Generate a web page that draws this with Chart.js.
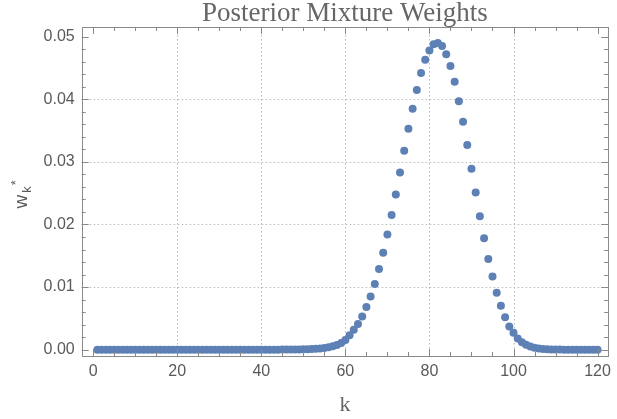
<!DOCTYPE html>
<html>
<head>
<meta charset="utf-8">
<script src="https://cdn.jsdelivr.net/npm/chart.js@4.4.1/dist/chart.umd.min.js"></script>
<style>
  html, body { margin: 0; padding: 0; background: #fff; }
  #wrap { width: 617px; height: 419px; }
</style>
</head>
<body>
<div id="wrap"><canvas id="weights" width="617" height="419"></canvas></div>
<script>
// k = mixture component index
const kValues = [
  1, 2, 3, 4, 5, 6, 7, 8, 9, 10, 11, 12, 13, 14, 15, 16, 17, 18, 19, 20,
  21, 22, 23, 24, 25, 26, 27, 28, 29, 30, 31, 32, 33, 34, 35, 36, 37, 38, 39, 40,
  41, 42, 43, 44, 45, 46, 47, 48, 49, 50, 51, 52, 53, 54, 55, 56, 57, 58, 59, 60,
  61, 62, 63, 64, 65, 66, 67, 68, 69, 70, 71, 72, 73, 74, 75, 76, 77, 78, 79, 80,
  81, 82, 83, 84, 85, 86, 87, 88, 89, 90, 91, 92, 93, 94, 95, 96, 97, 98, 99, 100,
  101, 102, 103, 104, 105, 106, 107, 108, 109, 110, 111, 112, 113, 114, 115, 116, 117, 118, 119, 120
];

// posterior weights w_k*
const weights = [
  0, 0, 0, 0, 0, 0, 0, 0, 0, 0, 0, 0, 0, 0, 0, 0, 0, 0, 0, 0,
  0, 0, 0, 0, 0, 0, 0, 0, 0, 0, 0, 0, 0, 0, 0, 0, 0, 0, 0, 0,
  0, 0, 0, 0, 0.00001, 0.00001, 0.00002, 0.00003, 0.00004, 0.00005,
  0.00007, 0.0001, 0.00014, 0.0002, 0.00028, 0.00039, 0.00053, 0.00075, 0.00105, 0.00155,
  0.0023, 0.0032, 0.0041, 0.0053, 0.0068, 0.0085, 0.0105, 0.0129, 0.0155, 0.0184,
  0.0215, 0.0248, 0.0283, 0.0318, 0.0353, 0.0385, 0.0415, 0.0442, 0.0463, 0.0478,
  0.0488, 0.0490, 0.0485, 0.0472, 0.0453, 0.0428, 0.0397, 0.0364, 0.0327, 0.0289,
  0.0251, 0.0213, 0.0178, 0.0145, 0.0117, 0.0091, 0.0070, 0.0052, 0.0037, 0.0027,
  0.0018, 0.0012, 0.0008, 0.0005, 0.0003, 0.00018, 0.0001, 0.00006, 0.00003, 0.00002,
  0.00001, 0, 0, 0, 0, 0, 0, 0, 0, 0
];

const xTicks = [0, 20, 40, 60, 80, 100, 120];
const yTicks = [0, 0.01, 0.02, 0.03, 0.04, 0.05];
const xGrid = [20, 40, 60, 80, 100];
const yGrid = [0.01, 0.02, 0.03, 0.04];

const frameColor = '#8a8a8a';
const textColor = '#5a5a5a';

// Mathematica-style frame: dotted grid, ticks on all four sides, labels
const framePlugin = {
  id: 'frame',
  beforeDatasetsDraw(chart) {
    const { ctx, chartArea: a, scales: { x, y } } = chart;
    ctx.save();
    ctx.strokeStyle = '#b8b8b8';
    ctx.lineWidth = 1;
    ctx.setLineDash([1.5, 2.5]);
    xGrid.forEach(v => {
      const px = Math.round(x.getPixelForValue(v)) + 0.5;
      ctx.beginPath(); ctx.moveTo(px, a.top); ctx.lineTo(px, a.bottom); ctx.stroke();
    });
    yGrid.forEach(v => {
      const py = Math.round(y.getPixelForValue(v)) + 0.5;
      ctx.beginPath(); ctx.moveTo(a.left, py); ctx.lineTo(a.right, py); ctx.stroke();
    });
    ctx.restore();
  },
  afterDatasetsDraw(chart) {
    const { ctx, chartArea: a, scales: { x, y } } = chart;
    ctx.save();
    ctx.strokeStyle = frameColor;
    ctx.lineWidth = 1;
    ctx.strokeRect(Math.round(a.left) + 0.5, Math.round(a.top) + 0.5,
      Math.round(a.right - a.left), Math.round(a.bottom - a.top));

    ctx.beginPath();
    for (let v = 0; v <= 120; v += 5) {
      const len = v % 20 === 0 ? 7 : 4;
      const px = Math.round(x.getPixelForValue(v)) + 0.5;
      ctx.moveTo(px, a.bottom); ctx.lineTo(px, a.bottom - len);
      ctx.moveTo(px, a.top); ctx.lineTo(px, a.top + len);
    }
    for (let i = 0; i <= 25; i++) {
      const v = i * 0.002;
      const len = i % 5 === 0 ? 7 : 4;
      const py = Math.round(y.getPixelForValue(v)) + 0.5;
      ctx.moveTo(a.left, py); ctx.lineTo(a.left + len, py);
      ctx.moveTo(a.right, py); ctx.lineTo(a.right - len, py);
    }
    ctx.stroke();
    ctx.restore();
  },
  afterDraw(chart) {
    const { ctx, chartArea: a } = chart;
    const cx = (a.left + a.right) / 2;
    ctx.save();
    ctx.fillStyle = '#666';
    ctx.textAlign = 'center';
    ctx.textBaseline = 'alphabetic';
    ctx.font = '27px "Liberation Serif", serif';
    ctx.fillText('Posterior Mixture Weights', cx, 21);
    ctx.font = '22px "Liberation Serif", serif';
    ctx.fillText('k', cx, 411);

    // y label: w with subscript k and superscript *
    const cy = (a.top + a.bottom) / 2;
    ctx.translate(27, cy + 17);
    ctx.rotate(-Math.PI / 2);
    ctx.textAlign = 'left';
    ctx.fillStyle = textColor;
    ctx.font = '19px "Liberation Sans", sans-serif';
    ctx.fillText('w', 0, 0);
    const wW = ctx.measureText('w').width;
    ctx.font = '13px "Liberation Sans", sans-serif';
    ctx.fillText('k', wW + 2, 4);
    const kW = ctx.measureText('k').width;
    ctx.fillText('*', wW + 2 + kW + 1, -7);
    ctx.restore();
  }
};

new Chart(document.getElementById('weights'), {
  type: 'scatter',
  data: {
    datasets: [{
      label: 'w_k*',
      data: kValues.map((k, i) => ({ x: k, y: weights[i] })),
      backgroundColor: '#5E81B5',
      borderWidth: 0,
      pointRadius: 4,
      pointHoverRadius: 4
    }]
  },
  options: {
    responsive: false,
    devicePixelRatio: 1,
    animation: false,
    layout: { padding: { top: 27, right: 3, bottom: 0, left: 0 } },
    plugins: { legend: { display: false }, tooltip: { enabled: false } },
    scales: {
      x: {
        type: 'linear',
        min: -2.73,
        max: 122.52,
        grid: { display: false, drawTicks: false },
        border: { display: false },
        afterBuildTicks: s => { s.ticks = xTicks.map(v => ({ value: v })); },
        afterFit: s => { s.height = 63; },
        ticks: {
          color: textColor,
          font: { family: 'Liberation Sans', size: 16 },
          padding: 6,
          maxRotation: 0,
          autoSkip: false
        }
      },
      y: {
        type: 'linear',
        min: -0.00101,
        max: 0.05155,
        grid: { display: false, drawTicks: false },
        border: { display: false },
        afterBuildTicks: s => { s.ticks = yTicks.map(v => ({ value: v })); },
        afterFit: s => { s.width = 81.7; },
        ticks: {
          color: textColor,
          font: { family: 'Liberation Sans', size: 16 },
          padding: 7,
          callback: v => v.toFixed(2)
        }
      }
    }
  },
  plugins: [framePlugin]
});
</script>
</body>
</html>
